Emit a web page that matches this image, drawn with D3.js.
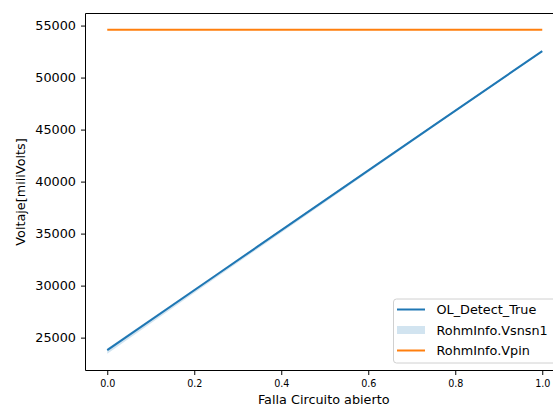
<!DOCTYPE html>
<html>
<head>
<meta charset="utf-8">
<script src="https://cdn.jsdelivr.net/npm/d3@7"></script>
<style>
  html, body { margin: 0; padding: 0; background: #fff; }
  svg { display: block; font-family: "DejaVu Sans", sans-serif; }
</style>
</head>
<body>
<svg id="chart" width="553" height="407"></svg>
<script>
// Fault sweep: sensed voltage vs. open-circuit fault level
const faultLevels = [0, 0.25, 0.5, 0.75, 1.0];
const olDetectTrue = [23800, 31000, 38200, 45380, 52550];
const vsnsn1Lower  = [23450, 30750, 38000, 45250, 52450];
const vsnsn1Upper  = [23950, 31120, 38300, 45460, 52600];
const vpin         = [54600, 54600, 54600, 54600, 54600];

const xTicks = [0.0, 0.2, 0.4, 0.6, 0.8, 1.0];
const yTicks = [25000, 30000, 35000, 40000, 45000, 50000, 55000];

const seriesNames = ["OL_Detect_True", "RohmInfo.Vsnsn1", "RohmInfo.Vpin"];
const blue = "#1f77b4", orange = "#ff7f0e";

const svg = d3.select("#chart");
const plot = { left: 85.5, right: 564, top: 13.5, bottom: 370.5 };

const x = d3.scaleLinear().domain([-0.05, 1.05]).range([plot.left, plot.right]);
const y = d3.scaleLinear().domain([21840, 56160]).range([plot.bottom, plot.top]);

const rows = faultLevels.map((f, i) => ({
  f, ol: olDetectTrue[i], lo: vsnsn1Lower[i], hi: vsnsn1Upper[i], vp: vpin[i]
}));

// confidence band
svg.append("path")
  .datum(rows)
  .attr("fill", blue)
  .attr("fill-opacity", 0.2)
  .attr("d", d3.area().x(d => x(d.f)).y0(d => y(d.lo)).y1(d => y(d.hi)));

const line = key => d3.line().x(d => x(d.f)).y(d => y(d[key]));
svg.append("path").datum(rows).attr("fill", "none").attr("stroke", blue)
  .attr("stroke-width", 2).attr("d", line("ol"));
svg.append("path").datum(rows).attr("fill", "none").attr("stroke", orange)
  .attr("stroke-width", 2).attr("d", line("vp"));

// axes
const xAxis = svg.append("g")
  .attr("transform", `translate(0,${plot.bottom})`)
  .call(d3.axisBottom(x).tickValues(xTicks).tickFormat(d3.format(".1f"))
    .tickSize(4.5).tickPadding(5).tickSizeOuter(0));
xAxis.select(".domain").remove();
xAxis.selectAll("text").attr("font-size", 9.6).attr("fill", "#000")
  .attr("font-family", "DejaVu Sans");
xAxis.selectAll("line").attr("stroke", "#000").attr("stroke-width", 1);

const yAxis = svg.append("g")
  .attr("transform", `translate(${plot.left},0)`)
  .call(d3.axisLeft(y).tickValues(yTicks).tickFormat(d3.format("d"))
    .tickSize(4.5).tickPadding(5).tickSizeOuter(0));
yAxis.select(".domain").remove();
yAxis.selectAll("text").attr("font-size", 12.8).attr("fill", "#000")
  .attr("font-family", "DejaVu Sans");
yAxis.selectAll("line").attr("stroke", "#000").attr("stroke-width", 1);

// spines
const spine = (x1, y1, x2, y2) => svg.append("line")
  .attr("x1", x1).attr("y1", y1).attr("x2", x2).attr("y2", y2)
  .attr("stroke", "#000").attr("stroke-width", 1);
spine(plot.left, plot.top, plot.right, plot.top);
spine(plot.left, plot.bottom, plot.right, plot.bottom);
spine(plot.left, plot.top, plot.left, plot.bottom);
spine(plot.right, plot.top, plot.right, plot.bottom);

// axis titles
svg.append("text")
  .attr("x", (plot.left + plot.right) / 2 - 1).attr("y", 404)
  .attr("text-anchor", "middle").attr("font-size", 12.8).attr("fill", "#000")
  .text("Falla Circuito abierto");
svg.append("text")
  .attr("transform", `translate(24.5,${(plot.top + plot.bottom) / 2}) rotate(-90)`)
  .attr("text-anchor", "middle").attr("font-size", 12.8).attr("fill", "#000")
  .text("Voltaje[miliVolts]");

// legend
const lg = svg.append("g").attr("transform", "translate(393.5,299)");
lg.append("rect").attr("width", 166).attr("height", 64).attr("rx", 3)
  .attr("fill", "#fff").attr("fill-opacity", 0.8)
  .attr("stroke", "#d0d0d0").attr("stroke-width", 1);
const rowY = [10.5, 31, 51.5];
seriesNames.forEach((name, i) => {
  const g = lg.append("g").attr("transform", `translate(0,${rowY[i]})`);
  if (i === 1) {
    g.append("rect").attr("x", 3.5).attr("y", -4).attr("width", 28).attr("height", 8)
      .attr("fill", blue).attr("fill-opacity", 0.2);
  } else {
    g.append("line").attr("x1", 3.5).attr("x2", 31.5)
      .attr("stroke", i === 0 ? blue : orange).attr("stroke-width", 2);
  }
  g.append("text").attr("x", 43).attr("y", 4.6)
    .attr("font-size", 12.8).attr("fill", "#000").text(name);
});
</script>
</body>
</html>
